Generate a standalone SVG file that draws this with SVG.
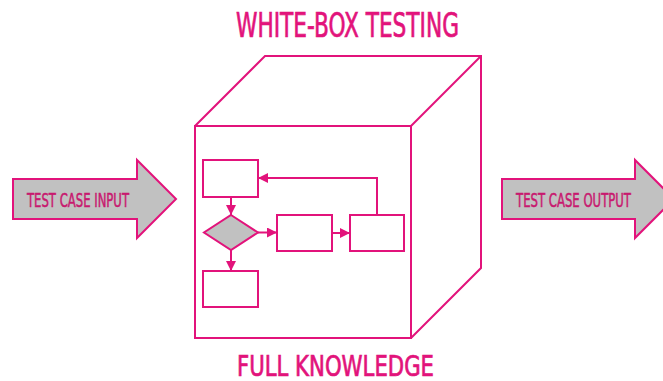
<svg xmlns="http://www.w3.org/2000/svg" width="663" height="381" viewBox="0 0 663 381">
  <defs>
    <style>
      .ln { fill: none; stroke: #E2137B; stroke-width: 2; stroke-linejoin: miter; }
      .box { fill: #FFFFFF; stroke: #E2137B; stroke-width: 2; }
      .gray { fill: #C1C1C1; stroke: #E2137B; stroke-width: 2; }
      .title { font-family: "DejaVu Sans Condensed", "Liberation Sans Narrow", "Liberation Sans", sans-serif; fill: #E2137B; stroke: #E2137B; stroke-width: 0.7; }
      .lbl { font-family: "DejaVu Sans Condensed", "Liberation Sans Narrow", "Liberation Sans", sans-serif; fill: #C8196F; stroke: #C8196F; stroke-width: 0.5; font-size: 19px; }
    </style>
    <marker id="ah" viewBox="0 0 10 10" refX="10" refY="5" markerWidth="10" markerHeight="10" markerUnits="userSpaceOnUse" orient="auto">
      <path d="M0,0 L10,5 L0,10 Z" fill="#E2137B"/>
    </marker>
  </defs>

  <rect width="663" height="381" fill="#FFFFFF"/>

  <!-- headings -->
  <text class="title" x="236" y="37" font-size="33" textLength="223" lengthAdjust="spacingAndGlyphs">WHITE-BOX TESTING</text>
  <text class="title" x="237" y="376" font-size="29" textLength="197" lengthAdjust="spacingAndGlyphs">FULL KNOWLEDGE</text>

  <!-- input arrow -->
  <g id="input">
    <path class="gray" d="M13,179 H137 V160 L176,199 L137,238 V219 H13 Z"/>
    <text class="lbl" x="27" y="207" textLength="102" lengthAdjust="spacingAndGlyphs">TEST CASE INPUT</text>
  </g>

  <!-- output arrow -->
  <g id="output">
    <path class="gray" d="M502,179 H635 V160 L674,199 L635,238 V219 H502 Z"/>
    <text class="lbl" x="516" y="207" textLength="115" lengthAdjust="spacingAndGlyphs">TEST CASE OUTPUT</text>
  </g>

  <!-- cube -->
  <g id="cube">
    <path class="ln" d="M195,126 L265,56 H481 V268 L411,338"/>
    <path class="ln" d="M411,126 L481,56"/>
    <rect class="box" x="195" y="126" width="216" height="212" fill="none"/>
  </g>

  <!-- flow inside -->
  <g id="step1"><rect class="box" x="203" y="160" width="55" height="37"/></g>
  <g id="decision"><path class="gray" d="M231,215 L258,232.5 L231,250 L204,232.5 Z"/></g>
  <g id="step2"><rect class="box" x="277" y="215" width="55" height="36"/></g>
  <g id="step3"><rect class="box" x="350" y="215" width="54" height="36"/></g>
  <g id="step4"><rect class="box" x="203" y="271" width="55" height="36"/></g>

  <g id="connectors">
    <path class="ln" d="M231,197 V215" marker-end="url(#ah)"/>
    <path class="ln" d="M231,250 V271" marker-end="url(#ah)"/>
    <path class="ln" d="M258,232.5 H277" marker-end="url(#ah)"/>
    <path class="ln" d="M332,233 H350" marker-end="url(#ah)"/>
    <path class="ln" d="M377,215 V178 H258" marker-end="url(#ah)"/>
  </g>
</svg>
